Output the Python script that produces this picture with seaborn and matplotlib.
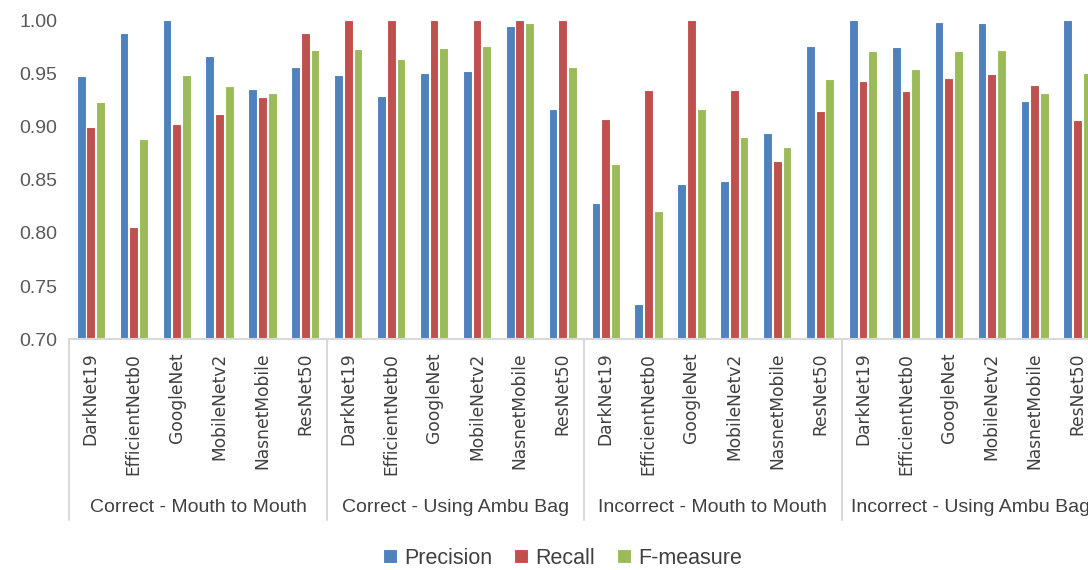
import matplotlib
matplotlib.use('Agg')
import matplotlib.pyplot as plt
import matplotlib.transforms as mtransforms
import pandas as pd
import seaborn as sns

# data
groups = ['Correct - Mouth to Mouth', 'Correct - Using Ambu Bag',
          'Incorrect - Mouth to Mouth', 'Incorrect - Using Ambu Bag']
models = ['DarkNet19', 'EfficientNetb0', 'GoogleNet', 'MobileNetv2', 'NasnetMobile', 'ResNet50']
metrics = ['Precision', 'Recall', 'F-measure']
colors = ['#4F81BD', '#C0504D', '#9BBB59']

precision = [0.947, 0.988, 1.000, 0.966, 0.935, 0.956,
             0.948, 0.929, 0.950, 0.952, 0.994, 0.916,
             0.828, 0.733, 0.846, 0.849, 0.894, 0.976,
             1.000, 0.975, 0.998, 0.997, 0.924, 1.000]
recall = [0.900, 0.806, 0.902, 0.912, 0.928, 0.988,
          1.000, 1.000, 1.000, 1.000, 1.000, 1.000,
          0.907, 0.934, 1.000, 0.934, 0.868, 0.915,
          0.943, 0.933, 0.946, 0.949, 0.939, 0.906]
f_measure = [0.923, 0.888, 0.948, 0.938, 0.931, 0.972,
             0.973, 0.963, 0.974, 0.976, 0.997, 0.956,
             0.865, 0.821, 0.916, 0.890, 0.881, 0.945,
             0.971, 0.954, 0.971, 0.972, 0.931, 0.950]

# long format table for seaborn
rows = []
for i, g in enumerate(groups):
    for j, m in enumerate(models):
        k = i * len(models) + j
        for name, vals in zip(metrics, [precision, recall, f_measure]):
            rows.append({'cat': f'{g}|{m}', 'metric': name, 'value': vals[k]})
df = pd.DataFrame(rows)

sns.set_style('white')
plt.rcParams['font.family'] = ['Liberation Sans', 'DejaVu Sans']

fig = plt.figure(figsize=(10.88, 5.7), dpi=100)
ax = fig.add_axes([0.0638, 0.4044, 0.9463, 0.5605])

sns.barplot(data=df, x='cat', y='value', hue='metric', palette=colors,
            saturation=1, width=0.68, gap=0.1, errorbar=None,
            edgecolor='white', linewidth=0.8, ax=ax)

ax.set_ylim(0.70, 1.00)
ax.set_yticks([0.70, 0.75, 0.80, 0.85, 0.90, 0.95, 1.00])
ax.set_yticklabels([f'{v:.2f}' for v in ax.get_yticks()], fontsize=14, color='#595959')
ax.tick_params(axis='y', length=0, pad=8.5)

n = len(groups) * len(models)
ax.set_xticks(range(n))
ax.set_xticklabels(models * len(groups), rotation=90, fontsize=12.3,
                   family='DejaVu Sans', color='#404040')
ax.tick_params(axis='x', length=0, pad=9.5)
ax.set_xlabel('')
ax.set_ylabel('')

for s in ['top', 'right', 'left']:
    ax.spines[s].set_visible(False)
ax.spines['bottom'].set_color('#D9D9D9')
ax.spines['bottom'].set_linewidth(1.5)

# group separators and group labels
trans = mtransforms.blended_transform_factory(ax.transData, ax.transAxes)
for i in range(len(groups) + 1):
    x = i * len(models) - 0.5
    ax.plot([x, x], [0, -0.565], transform=trans, color='#D9D9D9', lw=1.5, clip_on=False)
for i, g in enumerate(groups):
    ax.text(i * len(models) + 2.5, -0.527, g, transform=trans, ha='center', va='center',
            fontsize=14, color='#404040')
ax.set_xlim(-0.5, n - 0.5)

handles, labels = ax.get_legend_handles_labels()
ax.get_legend().remove()
fig.legend(handles, labels, loc='center', bbox_to_anchor=(0.517, 0.021), ncol=3,
           frameon=False, fontsize=15.5, handlelength=0.65, handleheight=0.65,
           handletextpad=0.35, columnspacing=1.0, labelcolor='#404040')

fig.savefig('out.png', dpi=100)
